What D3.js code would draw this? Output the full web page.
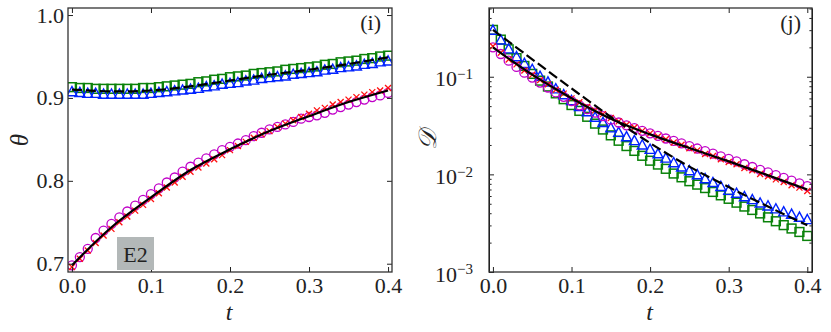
<!DOCTYPE html>
<html>
<head>
<meta charset="UTF-8">
<script src="https://d3js.org/d3.v7.min.js"></script>
<style>
  body { margin: 0; background: #fff; }
  svg text { font-family: "Liberation Serif", serif !important; fill: #222; }
</style>
</head>
<body>
<svg id="chart" width="831" height="332"></svg>
<script>

// ---- DATA ----

// time grid of the markers (every 0.01) and of the smooth lines (every 0.05)
var tMark = [0.00, 0.01, 0.02, 0.03, 0.04, 0.05, 0.06, 0.07, 0.08, 0.09,
             0.10, 0.11, 0.12, 0.13, 0.14, 0.15, 0.16, 0.17, 0.18, 0.19,
             0.20, 0.21, 0.22, 0.23, 0.24, 0.25, 0.26, 0.27, 0.28, 0.29,
             0.30, 0.31, 0.32, 0.33, 0.34, 0.35, 0.36, 0.37, 0.38, 0.39, 0.40];
var tLine = [0.00, 0.05, 0.10, 0.15, 0.20, 0.25, 0.30, 0.35, 0.40];

// panel (i): theta
var thetaSquares = [0.913, 0.912, 0.912, 0.911, 0.911, 0.911, 0.911, 0.911, 0.911, 0.912,
                    0.912, 0.913, 0.914, 0.915, 0.916, 0.917, 0.919, 0.920, 0.922, 0.923,
                    0.925, 0.926, 0.927, 0.929, 0.930, 0.931, 0.932, 0.934, 0.935, 0.936,
                    0.937, 0.938, 0.940, 0.941, 0.943, 0.944, 0.945, 0.947, 0.948, 0.950, 0.951];
var thetaTriangles = [0.908, 0.907, 0.906, 0.906, 0.905, 0.905, 0.905, 0.905, 0.905, 0.905,
                      0.906, 0.907, 0.908, 0.909, 0.910, 0.911, 0.912, 0.914, 0.915, 0.917,
                      0.918, 0.919, 0.921, 0.922, 0.924, 0.925, 0.926, 0.927, 0.929, 0.930,
                      0.931, 0.932, 0.934, 0.935, 0.937, 0.938, 0.939, 0.941, 0.942, 0.944, 0.945];
var thetaCircles = [0.698, 0.708, 0.718, 0.731, 0.740, 0.748, 0.756, 0.763, 0.770, 0.777,
                    0.784, 0.791, 0.798, 0.804, 0.811, 0.817, 0.822, 0.827, 0.832, 0.837,
                    0.841, 0.845, 0.849, 0.854, 0.858, 0.862, 0.865, 0.868, 0.871, 0.875,
                    0.877, 0.879, 0.882, 0.886, 0.889, 0.892, 0.895, 0.898, 0.901, 0.903, 0.906];
var thetaCrosses = [0.696, 0.706, 0.716, 0.725, 0.734, 0.742, 0.750, 0.757, 0.764, 0.771,
                    0.778, 0.785, 0.792, 0.798, 0.805, 0.811, 0.816, 0.821, 0.826, 0.831,
                    0.837, 0.842, 0.847, 0.852, 0.856, 0.860, 0.865, 0.869, 0.873, 0.877,
                    0.881, 0.885, 0.888, 0.892, 0.895, 0.898, 0.901, 0.904, 0.907, 0.909, 0.912];
var thetaDashed = [0.910, 0.908, 0.909, 0.914, 0.921, 0.928, 0.934, 0.941, 0.949];
var thetaSolid  = [0.698, 0.744, 0.780, 0.813, 0.838, 0.860, 0.878, 0.895, 0.909];

// panel (j): D (log scale)
var dSquares = [0.302, 0.240, 0.191, 0.155, 0.129, 0.107, 0.0912, 0.0794, 0.0676, 0.0589,
                0.0513, 0.0447, 0.0389, 0.0331, 0.0288, 0.0251, 0.0221, 0.0195, 0.0174, 0.0155,
                0.0138, 0.0126, 0.0114, 0.0102, 0.00933, 0.00851, 0.00785, 0.00724, 0.00661, 0.00610,
                0.00562, 0.00513, 0.00468, 0.00432, 0.00398, 0.00363, 0.00331, 0.00302, 0.00279, 0.00257, 0.00234];
var dTriangles = [0.302, 0.240, 0.195, 0.162, 0.138, 0.120, 0.102, 0.0891, 0.0759, 0.0661,
                  0.0575, 0.0501, 0.0442, 0.0389, 0.0343, 0.0302, 0.0272, 0.0245, 0.0224, 0.0202,
                  0.0182, 0.0164, 0.0148, 0.0133, 0.0120, 0.0110, 0.0100, 0.00912, 0.00832, 0.00759,
                  0.00692, 0.00646, 0.00596, 0.00556, 0.00513, 0.00479, 0.00447, 0.00417, 0.00394, 0.00367, 0.00347];
var dCircles = [0.200, 0.171, 0.146, 0.126, 0.110, 0.098, 0.0871, 0.0776, 0.0691, 0.0623,
                0.0563, 0.0510, 0.0466, 0.0429, 0.0395, 0.0363, 0.0340, 0.0318, 0.0298, 0.0279,
                0.0263, 0.0248, 0.0233, 0.0220, 0.0208, 0.0195, 0.0184, 0.0173, 0.0163, 0.0153,
                0.0144, 0.0136, 0.0127, 0.0119, 0.0111, 0.01047, 0.00982, 0.00921, 0.00863, 0.00809, 0.00759];
var dCrosses = [0.205, 0.176, 0.150, 0.134, 0.116, 0.105, 0.0925, 0.0838, 0.0735, 0.0672,
                0.0600, 0.0548, 0.0493, 0.0452, 0.0414, 0.0378, 0.0349, 0.0322, 0.0302, 0.0279,
                0.0263, 0.0244, 0.0229, 0.0212, 0.0201, 0.0185, 0.0176, 0.0162, 0.0154, 0.0143,
                0.0134, 0.0127, 0.0116, 0.0110, 0.0101, 0.00957, 0.00888, 0.00836, 0.00773, 0.00731, 0.00675];
var dDashed = [0.302, 0.151, 0.0759, 0.0389, 0.0209, 0.0120, 0.00741, 0.00468, 0.00302];
var dSolid  = [0.200, 0.105, 0.0603, 0.0372, 0.0257, 0.0186, 0.0136, 0.00977, 0.00700];

var xTicks = [0.0, 0.1, 0.2, 0.3, 0.4];
var thetaTicks = [0.7, 0.8, 0.9, 1.0];
var dTicks = [1e-3, 1e-2, 1e-1];


// ---- SETUP ----

var svg = d3.select("#chart");
var fontSize = 22;
var green = "#0a820a", blue = "#0022ff", magenta = "#c000c8", red = "#ff1010";

function drawPanel(p) {
  var g = svg.append("g");

  g.append("clipPath").attr("id", p.id + "-clip")
    .append("rect")
    .attr("x", p.x.range()[0]).attr("y", p.y.range()[1])
    .attr("width", p.x.range()[1] - p.x.range()[0])
    .attr("height", p.y.range()[0] - p.y.range()[1]);

  var left = p.x.range()[0], right = p.x.range()[1],
      top = p.y.range()[1], bottom = p.y.range()[0];

  // data layer
  var plot = g.append("g").attr("clip-path", "url(#" + p.id + "-clip)");

  function pts(vals, ts) {
    return vals.map(function (v, i) { return [ts[i], v]; });
  }

  // squares
  plot.append("g").selectAll("rect")
    .data(pts(p.squares, tMark)).enter().append("rect")
    .attr("x", function (d) { return p.x(d[0]) - 4.4; })
    .attr("y", function (d) { return p.y(d[1]) - 4.4; })
    .attr("width", 8.8).attr("height", 8.8)
    .attr("fill", "none").attr("stroke", green).attr("stroke-width", 1.5);

  // triangles
  plot.append("g").selectAll("path")
    .data(pts(p.triangles, tMark)).enter().append("path")
    .attr("d", function (d) {
      var cx = p.x(d[0]), cy = p.y(d[1]);
      return "M" + cx + "," + (cy - 4.8) + "L" + (cx - 5) + "," + (cy + 4.4) +
             "L" + (cx + 5) + "," + (cy + 4.4) + "Z";
    })
    .attr("fill", "none").attr("stroke", blue).attr("stroke-width", 1.4);

  // circles
  plot.append("g").selectAll("circle")
    .data(pts(p.circles, tMark)).enter().append("circle")
    .attr("cx", function (d) { return p.x(d[0]); })
    .attr("cy", function (d) { return p.y(d[1]); })
    .attr("r", 4.5)
    .attr("fill", "none").attr("stroke", magenta).attr("stroke-width", 1.3);

  // crosses
  plot.append("g").selectAll("path")
    .data(pts(p.crosses, tMark)).enter().append("path")
    .attr("d", function (d) {
      var cx = p.x(d[0]), cy = p.y(d[1]), s = 3;
      return "M" + (cx - s) + "," + (cy - s) + "L" + (cx + s) + "," + (cy + s) +
             "M" + (cx - s) + "," + (cy + s) + "L" + (cx + s) + "," + (cy - s);
    })
    .attr("fill", "none").attr("stroke", red).attr("stroke-width", 1.3);

  var line = d3.line()
    .x(function (d) { return p.x(d[0]); })
    .y(function (d) { return p.y(d[1]); })
    .curve(d3.curveCatmullRom);

  plot.append("path").datum(pts(p.dashed, tLine))
    .attr("d", line).attr("fill", "none")
    .attr("stroke", "#000").attr("stroke-width", 2.2)
    .attr("stroke-dasharray", "10,4");

  plot.append("path").datum(pts(p.solid, tLine))
    .attr("d", line).attr("fill", "none")
    .attr("stroke", "#000").attr("stroke-width", 2.2);

  // axes, ticks pointing inward on all four sides
  var axB = g.append("g").attr("transform", "translate(0," + bottom + ")")
    .call(d3.axisBottom(p.x).tickValues(xTicks).tickSizeInner(-5).tickSizeOuter(0)
      .tickPadding(5).tickFormat(d3.format(".1f")));
  var axT = g.append("g").attr("transform", "translate(0," + top + ")")
    .call(d3.axisTop(p.x).tickValues(xTicks).tickSizeInner(-5).tickSizeOuter(0).tickFormat(""));

  var axL = g.append("g").attr("transform", "translate(" + left + ",0)")
    .call(d3.axisLeft(p.y).tickValues(p.yTicks).tickSizeInner(-5).tickSizeOuter(0)
      .tickPadding(p.yPad).tickFormat(p.yFormat));
  var axR = g.append("g").attr("transform", "translate(" + right + ",0)")
    .call(d3.axisRight(p.y).tickValues(p.yTicks).tickSizeInner(-5).tickSizeOuter(0).tickFormat(""));

  if (p.minor) {
    g.append("g").attr("transform", "translate(" + left + ",0)")
      .call(d3.axisLeft(p.y).tickValues(p.minor).tickSizeInner(-2.6).tickSizeOuter(0).tickFormat(""));
    g.append("g").attr("transform", "translate(" + right + ",0)")
      .call(d3.axisRight(p.y).tickValues(p.minor).tickSizeInner(-2.6).tickSizeOuter(0).tickFormat(""));
  }

  [axB, axT, axL, axR].forEach(function (a) { a.select(".domain").remove(); });
  g.selectAll("g").attr("font-size", null).attr("font-family", null);
  g.selectAll(".tick line").attr("stroke", "#222").attr("stroke-width", 1);
  g.selectAll(".tick text").style("font-size", fontSize + "px").attr("fill", "#222");

  if (p.logLabels) {
    axL.selectAll(".tick text").each(function (d) {
      var e = Math.round(Math.log10(d));
      var t = d3.select(this).attr("dy", "0.42em").text("10");
      t.append("tspan").attr("dy", "-0.5em").style("font-size", "15px").text("\u2212" + (-e));
    });
  }

  // frame
  g.append("rect")
    .attr("x", left).attr("y", top)
    .attr("width", right - left).attr("height", bottom - top)
    .attr("fill", "none").attr("stroke", "#333").attr("stroke-width", 1.3);

  // axis titles
  g.append("text")
    .attr("transform", "translate(" + p.yLabelX + "," + ((top + bottom) / 2) + ") rotate(-90)")
    .attr("text-anchor", "middle").attr("dy", "0.35em")
    .style("font-size", "25px").attr("font-style", "italic")
    .text(p.yLabel);

  g.append("text")
    .attr("x", (left + right) / 2 - 1).attr("y", 320)
    .attr("text-anchor", "middle")
    .style("font-size", "24px").attr("font-style", "italic")
    .text("t");

  // panel tag
  g.append("text")
    .attr("x", right - 11).attr("y", 30)
    .attr("text-anchor", "end")
    .style("font-size", "22px")
    .text(p.tag);
}

// ---- DRAW ----

drawPanel({
  id: "pi",
  x: d3.scaleLinear().domain([-0.005, 0.405]).range([68, 392]),
  y: d3.scaleLinear().domain([0.690, 1.0085]).range([272, 8]),
  squares: thetaSquares, triangles: thetaTriangles,
  circles: thetaCircles, crosses: thetaCrosses,
  dashed: thetaDashed, solid: thetaSolid,
  yTicks: thetaTicks, yPad: 4, yFormat: d3.format(".1f"),
  yLabel: "\u03b8", yLabelX: 19, tag: "(i)"
});

var logMinor = [];
[1e-3, 1e-2, 1e-1].forEach(function (dec) {
  [2, 3, 4, 5, 6, 7, 8, 9].forEach(function (m) {
    if (m * dec < 0.506) logMinor.push(m * dec);
  });
});

drawPanel({
  id: "pj",
  x: d3.scaleLinear().domain([-0.005, 0.406]).range([489, 812]),
  y: d3.scaleLog().domain([1e-3, 0.506]).range([272, 8]),
  squares: dSquares, triangles: dTriangles,
  circles: dCircles, crosses: dCrosses,
  dashed: dDashed, solid: dSolid,
  yTicks: dTicks, yPad: 16, yFormat: String, logLabels: true, minor: logMinor,
  yLabel: "\ud835\udc9f", yLabelX: 427, tag: "(j)"
});

// E2 tag in panel (i)
svg.append("rect")
  .attr("x", 117).attr("y", 237).attr("width", 37).attr("height", 33)
  .attr("fill", "#b3b8b8");
svg.append("text")
  .attr("x", 135.5).attr("y", 262)
  .attr("text-anchor", "middle")
  .style("font-size", "22px")
  .text("E2");

</script>
</body>
</html>
